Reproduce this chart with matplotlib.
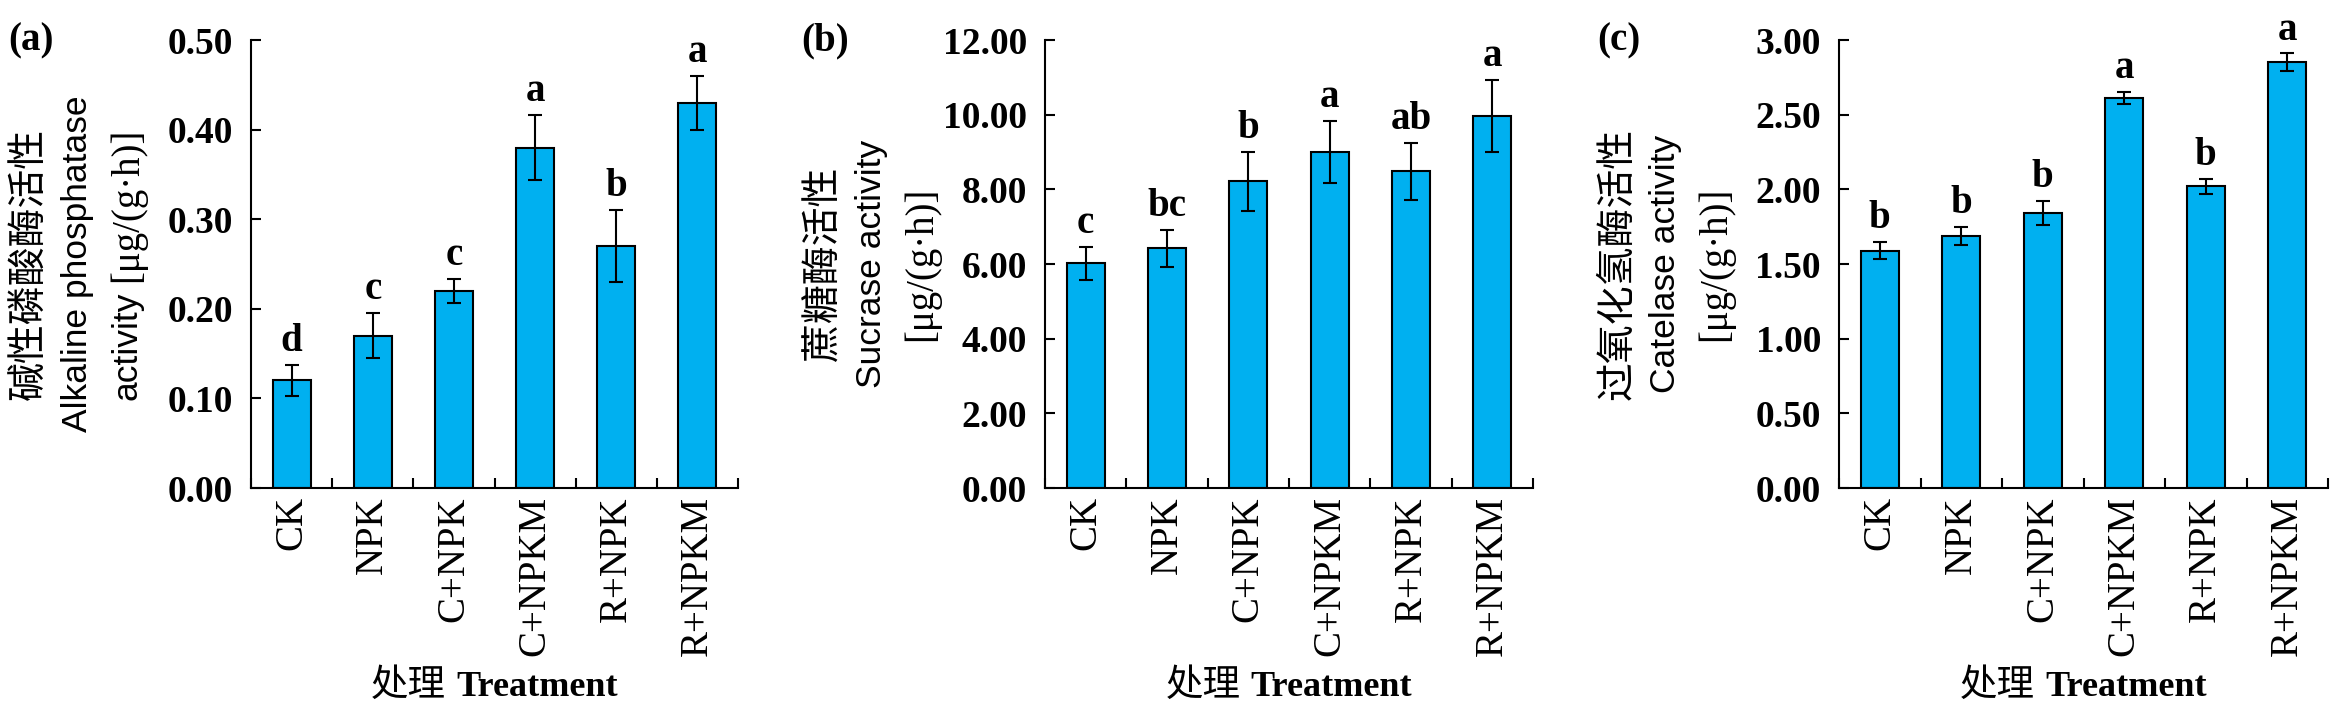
import numpy as np
import matplotlib
matplotlib.use('Agg')
import matplotlib.pyplot as plt
from matplotlib.ticker import FormatStrFormatter
from matplotlib.transforms import IdentityTransform

treatments = ['CK', 'NPK', 'C+NPK', 'C+NPKM', 'R+NPK', 'R+NPKM']

# (a) alkaline phosphatase
alp_mean = [0.12, 0.17, 0.22, 0.38, 0.27, 0.43]
alp_err = [0.017, 0.025, 0.013, 0.036, 0.040, 0.030]
alp_sig = ['d', 'c', 'c', 'a', 'b', 'a']

# (b) sucrase
suc_mean = [6.02, 6.42, 8.21, 9.01, 8.48, 9.96]
suc_err = [0.44, 0.50, 0.80, 0.83, 0.77, 0.97]
suc_sig = ['c', 'bc', 'b', 'a', 'ab', 'a']

# (c) catalase
cat_mean = [1.59, 1.69, 1.84, 2.61, 2.02, 2.85]
cat_err = [0.055, 0.060, 0.080, 0.040, 0.050, 0.060]
cat_sig = ['b', 'b', 'b', 'a', 'b', 'a']

SERIF = 'Liberation Serif'
SANS = 'Liberation Sans'
CJK = 'Noto Sans CJK SC'
BAR = '#00B0F0'

W, H = 2339, 721
fig = plt.figure(figsize=(W / 100, H / 100), dpi=100)
renderer = fig.canvas.get_renderer()
px = IdentityTransform()


def run_text(pieces, cx, cy, rot=0, gap=10):
    # pieces of differently styled text laid out in one run, centred on (cx, cy) in pixels
    texts = [fig.text(0, 0, s, transform=px, rotation=rot, rotation_mode='anchor',
                      ha='left', va='baseline', **kw) for s, kw in pieces]
    pos = 0
    for t in texts:
        t.set_position((0, pos) if rot else (pos, 0))
        bb = t.get_window_extent(renderer)
        pos += (bb.height if rot else bb.width) + gap
    bbs = [t.get_window_extent(renderer) for t in texts]
    x0 = min(b.x0 for b in bbs); x1 = max(b.x1 for b in bbs)
    y0 = min(b.y0 for b in bbs); y1 = max(b.y1 for b in bbs)
    dx = cx - (x0 + x1) / 2
    dy = cy - (y0 + y1) / 2
    for t in texts:
        x, y = t.get_position()
        t.set_position((x + dx, y + dy))


cjk = dict(family=CJK, fontsize=28)
sans = dict(family=SANS, fontsize=25.5)
serif = dict(family=SERIF, fontsize=28)

panels = [
    ('(a)', alp_mean, alp_err, alp_sig, 0.5, 0.1, 251, 487,
     [[('碱性磷酸酶活性', cjk)], [('Alkaline phosphatase', sans)],
      [('activity', sans), ('[μg/(g·h)]', serif)]]),
    ('(b)', suc_mean, suc_err, suc_sig, 12, 2, 1045, 488,
     [[('蔗糖酶活性', cjk)], [('Sucrase activity', sans)], [('[μg/(g·h)]', serif)]]),
    ('(c)', cat_mean, cat_err, cat_sig, 3, 0.5, 1839, 489,
     [[('过氧化氢酶活性', cjk)], [('Catelase activity', sans)], [('[μg/(g·h)]', serif)]]),
]

bottom, height = 233, 448
x = np.arange(len(treatments))

for tag, mean, err, sig, ymax, step, left, width, ylines in panels:
    ax = fig.add_axes([left / W, bottom / H, width / W, height / H])
    ax.bar(x, mean, width=0.47, color=BAR, edgecolor='black', linewidth=1.5, zorder=2)
    ax.errorbar(x, mean, yerr=err, fmt='none', ecolor='black', elinewidth=1.5,
                capsize=4.7, capthick=1.5, zorder=3)
    for xi, m, e, s in zip(x, mean, err, sig):
        ax.annotate(s, (xi, m + e), xytext=(0, 10), textcoords='offset points',
                    ha='center', va='baseline', family=SERIF, fontsize=28,
                    fontweight='bold', annotation_clip=False)

    ax.set_xlim(-0.5, len(treatments) - 0.5)
    ax.set_ylim(0, ymax)
    ax.set_yticks(np.arange(0, ymax + step / 2, step))
    ax.yaxis.set_major_formatter(FormatStrFormatter('%.2f'))
    ax.set_xticks(x)
    ax.set_xticklabels(treatments, rotation=90, family=SERIF, fontsize=28)
    ax.set_xticks(np.arange(-0.5, len(treatments), 1), minor=True)
    for lab in ax.get_yticklabels():
        lab.set_family(SERIF)
        lab.set_fontsize(27)
        lab.set_fontweight('bold')
    ax.tick_params(axis='x', which='major', length=0, pad=6)
    ax.tick_params(axis='x', which='minor', direction='in', length=7, width=1.5)
    ax.tick_params(axis='y', direction='in', length=7, width=1.5, pad=13)
    for sp in ['top', 'right']:
        ax.spines[sp].set_visible(False)
    for sp in ['left', 'bottom']:
        ax.spines[sp].set_linewidth(1.5)

    cy = bottom + height / 2
    for off, line in zip([-221, -173, -124], ylines):
        run_text(line, left + off, cy, rot=90)

    run_text([('处理', dict(family=CJK, fontsize=27)),
              ('Treatment', dict(family=SERIF, fontsize=26, fontweight='bold'))],
             left + width / 2, H - 685)

    fig.text(left - 220, H - 41, tag, transform=px, ha='center', va='center',
             family=SERIF, fontsize=28, fontweight='bold')

fig.savefig('out.png', dpi=100)
